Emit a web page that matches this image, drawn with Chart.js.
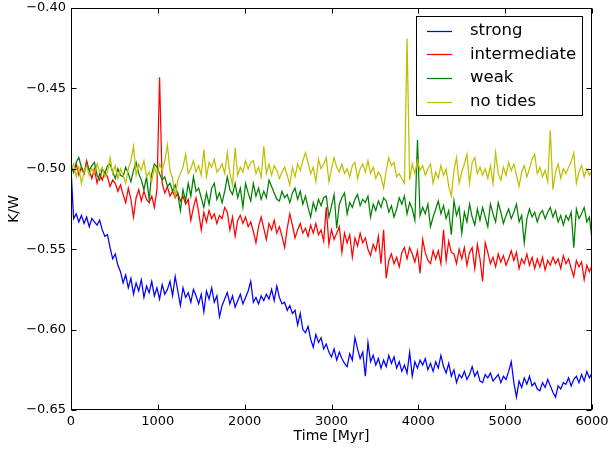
<!DOCTYPE html>
<html>
<head>
<meta charset="utf-8">
<script src="https://cdn.jsdelivr.net/npm/chart.js@4/dist/chart.umd.min.js"></script>
<style>
html,body{margin:0;padding:0;background:#fff;}
#c{display:block;}
</style>
</head>
<body>
<canvas id="c" width="610" height="449"></canvas>
<script>
// Time axis (Myr)
const times = [
0,30,60,90,120,150,180,210,240,270,
300,330,360,390,420,450,480,510,540,570,
600,630,660,690,720,750,780,810,840,870,
900,930,960,990,1020,1050,1080,1110,1140,1170,
1200,1230,1260,1290,1320,1350,1380,1410,1440,1470,
1500,1530,1560,1590,1620,1650,1680,1710,1740,1770,
1800,1830,1860,1890,1920,1950,1980,2010,2040,2070,
2100,2130,2160,2190,2220,2250,2280,2310,2340,2370,
2400,2430,2460,2490,2520,2550,2580,2610,2640,2670,
2700,2730,2760,2790,2820,2850,2880,2910,2940,2970,
3000,3030,3060,3090,3120,3150,3180,3210,3240,3270,
3300,3330,3360,3390,3420,3450,3480,3510,3540,3570,
3600,3630,3660,3690,3720,3750,3780,3810,3840,3870,
3900,3930,3960,3990,4020,4050,4080,4110,4140,4170,
4200,4230,4260,4290,4320,4350,4380,4410,4440,4470,
4500,4530,4560,4590,4620,4650,4680,4710,4740,4770,
4800,4830,4860,4890,4920,4950,4980,5010,5040,5070,
5100,5130,5160,5190,5220,5250,5280,5310,5340,5370,
5400,5430,5460,5490,5520,5550,5580,5610,5640,5670,
5700,5730,5760,5790,5820,5850,5880,5910,5940,5970,
6000];

const strong = [
-0.500,-0.531,-0.528,-0.533,-0.529,-0.534,-0.530,-0.536,-0.531,-0.533,
-0.535,-0.532,-0.538,-0.542,-0.541,-0.549,-0.556,-0.553,-0.560,-0.564,
-0.571,-0.566,-0.574,-0.568,-0.578,-0.571,-0.576,-0.569,-0.580,-0.573,
-0.577,-0.570,-0.579,-0.574,-0.581,-0.572,-0.578,-0.575,-0.570,-0.579,
-0.567,-0.576,-0.585,-0.574,-0.580,-0.577,-0.583,-0.575,-0.579,-0.584,
-0.578,-0.589,-0.576,-0.581,-0.574,-0.583,-0.579,-0.592,-0.585,-0.581,
-0.577,-0.584,-0.579,-0.586,-0.582,-0.578,-0.584,-0.580,-0.576,-0.570,
-0.583,-0.580,-0.584,-0.579,-0.582,-0.578,-0.581,-0.575,-0.582,-0.573,
-0.580,-0.584,-0.583,-0.588,-0.585,-0.590,-0.588,-0.597,-0.590,-0.600,
-0.602,-0.598,-0.606,-0.611,-0.603,-0.608,-0.605,-0.612,-0.609,-0.614,
-0.617,-0.612,-0.619,-0.614,-0.618,-0.621,-0.623,-0.615,-0.619,-0.605,
-0.612,-0.618,-0.614,-0.629,-0.608,-0.620,-0.616,-0.622,-0.618,-0.624,
-0.619,-0.623,-0.616,-0.621,-0.617,-0.624,-0.620,-0.626,-0.622,-0.627,
-0.614,-0.629,-0.620,-0.624,-0.619,-0.622,-0.618,-0.625,-0.621,-0.626,
-0.620,-0.624,-0.616,-0.623,-0.627,-0.621,-0.629,-0.625,-0.633,-0.628,
-0.630,-0.626,-0.631,-0.628,-0.623,-0.629,-0.626,-0.632,-0.633,-0.628,
-0.630,-0.627,-0.632,-0.630,-0.628,-0.633,-0.629,-0.631,-0.626,-0.620,
-0.633,-0.642,-0.632,-0.636,-0.630,-0.634,-0.629,-0.635,-0.633,-0.637,
-0.638,-0.633,-0.636,-0.631,-0.635,-0.639,-0.642,-0.635,-0.637,-0.633,
-0.634,-0.630,-0.635,-0.631,-0.629,-0.633,-0.628,-0.632,-0.626,-0.630,
-0.627];

const intermediate = [
-0.498,-0.502,-0.497,-0.504,-0.499,-0.503,-0.495,-0.501,-0.506,-0.500,
-0.509,-0.503,-0.507,-0.502,-0.505,-0.511,-0.507,-0.509,-0.514,-0.510,
-0.516,-0.521,-0.512,-0.519,-0.530,-0.518,-0.513,-0.520,-0.514,-0.519,
-0.521,-0.517,-0.524,-0.513,-0.443,-0.509,-0.515,-0.511,-0.517,-0.514,
-0.518,-0.515,-0.520,-0.517,-0.522,-0.519,-0.532,-0.524,-0.518,-0.527,
-0.538,-0.527,-0.533,-0.526,-0.531,-0.528,-0.534,-0.529,-0.531,-0.524,
-0.527,-0.538,-0.530,-0.542,-0.532,-0.529,-0.534,-0.530,-0.536,-0.533,
-0.539,-0.546,-0.536,-0.530,-0.537,-0.544,-0.534,-0.538,-0.532,-0.540,
-0.536,-0.542,-0.549,-0.537,-0.528,-0.535,-0.543,-0.538,-0.534,-0.540,
-0.537,-0.542,-0.535,-0.540,-0.534,-0.541,-0.538,-0.545,-0.524,-0.547,
-0.538,-0.544,-0.540,-0.536,-0.552,-0.540,-0.546,-0.541,-0.555,-0.543,
-0.548,-0.540,-0.546,-0.543,-0.550,-0.554,-0.547,-0.551,-0.542,-0.559,
-0.538,-0.568,-0.557,-0.553,-0.559,-0.555,-0.561,-0.552,-0.549,-0.556,
-0.549,-0.553,-0.558,-0.551,-0.565,-0.544,-0.552,-0.557,-0.559,-0.551,
-0.556,-0.551,-0.559,-0.538,-0.557,-0.545,-0.552,-0.553,-0.559,-0.550,
-0.556,-0.549,-0.560,-0.552,-0.549,-0.562,-0.547,-0.556,-0.570,-0.546,
-0.552,-0.559,-0.555,-0.561,-0.553,-0.558,-0.554,-0.560,-0.556,-0.551,
-0.557,-0.552,-0.562,-0.556,-0.559,-0.553,-0.560,-0.555,-0.562,-0.556,
-0.561,-0.555,-0.563,-0.557,-0.560,-0.555,-0.559,-0.556,-0.562,-0.554,
-0.559,-0.556,-0.562,-0.567,-0.557,-0.561,-0.558,-0.569,-0.560,-0.564,
-0.560];

const weak = [
-0.497,-0.502,-0.496,-0.493,-0.499,-0.503,-0.497,-0.501,-0.498,-0.496,
-0.504,-0.507,-0.500,-0.503,-0.498,-0.497,-0.502,-0.506,-0.500,-0.504,
-0.505,-0.499,-0.503,-0.508,-0.501,-0.496,-0.503,-0.507,-0.513,-0.505,
-0.519,-0.503,-0.497,-0.499,-0.503,-0.507,-0.505,-0.511,-0.509,-0.514,
-0.510,-0.516,-0.526,-0.513,-0.520,-0.509,-0.517,-0.505,-0.514,-0.512,
-0.518,-0.524,-0.515,-0.522,-0.512,-0.509,-0.519,-0.515,-0.521,-0.514,
-0.505,-0.513,-0.516,-0.509,-0.518,-0.512,-0.524,-0.509,-0.515,-0.520,
-0.509,-0.517,-0.512,-0.519,-0.514,-0.518,-0.507,-0.511,-0.515,-0.519,
-0.520,-0.514,-0.518,-0.516,-0.521,-0.515,-0.512,-0.519,-0.514,-0.522,
-0.517,-0.524,-0.530,-0.521,-0.526,-0.519,-0.523,-0.518,-0.517,-0.530,
-0.523,-0.516,-0.537,-0.522,-0.518,-0.515,-0.528,-0.521,-0.524,-0.519,
-0.516,-0.523,-0.519,-0.521,-0.517,-0.530,-0.522,-0.526,-0.520,-0.524,
-0.518,-0.520,-0.527,-0.523,-0.530,-0.525,-0.518,-0.522,-0.517,-0.528,
-0.521,-0.525,-0.532,-0.482,-0.529,-0.524,-0.528,-0.522,-0.536,-0.530,
-0.525,-0.520,-0.528,-0.523,-0.531,-0.526,-0.541,-0.520,-0.529,-0.524,
-0.540,-0.527,-0.533,-0.522,-0.530,-0.535,-0.525,-0.532,-0.524,-0.530,
-0.536,-0.522,-0.528,-0.533,-0.521,-0.527,-0.534,-0.529,-0.525,-0.531,
-0.527,-0.522,-0.533,-0.529,-0.546,-0.531,-0.525,-0.530,-0.527,-0.533,
-0.528,-0.526,-0.531,-0.527,-0.524,-0.530,-0.526,-0.533,-0.529,-0.535,
-0.529,-0.532,-0.527,-0.549,-0.525,-0.531,-0.528,-0.524,-0.533,-0.530,
-0.544];

const noTides = [
-0.501,-0.497,-0.505,-0.499,-0.509,-0.502,-0.498,-0.504,-0.500,-0.503,
-0.497,-0.502,-0.499,-0.505,-0.502,-0.493,-0.503,-0.498,-0.506,-0.500,
-0.504,-0.509,-0.500,-0.495,-0.486,-0.504,-0.497,-0.501,-0.495,-0.505,
-0.502,-0.508,-0.499,-0.504,-0.497,-0.501,-0.495,-0.485,-0.501,-0.506,
-0.517,-0.507,-0.503,-0.499,-0.491,-0.503,-0.500,-0.495,-0.502,-0.498,
-0.504,-0.488,-0.505,-0.496,-0.499,-0.494,-0.502,-0.500,-0.497,-0.503,
-0.490,-0.503,-0.510,-0.487,-0.504,-0.499,-0.502,-0.495,-0.500,-0.496,
-0.495,-0.503,-0.499,-0.505,-0.486,-0.503,-0.497,-0.504,-0.498,-0.501,
-0.506,-0.502,-0.499,-0.504,-0.510,-0.499,-0.505,-0.497,-0.501,-0.495,
-0.490,-0.496,-0.503,-0.499,-0.508,-0.494,-0.500,-0.497,-0.493,-0.508,
-0.500,-0.493,-0.499,-0.502,-0.497,-0.503,-0.500,-0.505,-0.498,-0.496,
-0.506,-0.500,-0.497,-0.502,-0.495,-0.503,-0.499,-0.506,-0.502,-0.505,
-0.512,-0.501,-0.493,-0.498,-0.496,-0.505,-0.503,-0.506,-0.509,-0.419,
-0.507,-0.497,-0.503,-0.495,-0.501,-0.498,-0.504,-0.500,-0.497,-0.509,
-0.502,-0.506,-0.498,-0.504,-0.500,-0.511,-0.517,-0.501,-0.493,-0.509,
-0.502,-0.497,-0.491,-0.509,-0.496,-0.493,-0.503,-0.499,-0.504,-0.500,
-0.506,-0.498,-0.509,-0.490,-0.503,-0.507,-0.499,-0.504,-0.496,-0.501,
-0.497,-0.504,-0.511,-0.502,-0.498,-0.505,-0.500,-0.494,-0.491,-0.503,
-0.499,-0.505,-0.501,-0.508,-0.476,-0.513,-0.502,-0.497,-0.506,-0.500,
-0.503,-0.499,-0.496,-0.490,-0.509,-0.502,-0.498,-0.505,-0.500,-0.504,
-0.501];

const seriesNames = ['strong', 'intermediate', 'weak', 'no tides'];
const seriesColors = ['#0000ff', '#ff0000', '#008000', '#bfbf00'];
const seriesValues = [strong, intermediate, weak, noTides];

const yTicks = [-0.65, -0.60, -0.55, -0.50, -0.45, -0.40];
const xTicks = [0, 1000, 2000, 3000, 4000, 5000, 6000];

const FONT = "'DejaVu Sans', sans-serif";

const datasets = seriesValues.map((vals, k) => ({
  label: seriesNames[k],
  data: vals.map((v, i) => ({x: times[i], y: v})),
  borderColor: seriesColors[k],
  backgroundColor: seriesColors[k],
  borderWidth: 1.25,
  pointRadius: 0,
  tension: 0,
  fill: false,
  order: 4 - k
}));

const framePlugin = {
  id: 'frame',
  afterDatasetsDraw(chart) {
    const ctx = chart.ctx;
    const a = chart.chartArea;
    const xs = chart.scales.x, ys = chart.scales.y;
    const L = Math.round(a.left) + 0.5, R = Math.round(a.right) - 0.5;
    const T = Math.round(a.top) + 0.5, B = Math.round(a.bottom) - 0.5;
    ctx.save();
    ctx.strokeStyle = '#000';
    ctx.lineWidth = 1;
    ctx.strokeRect(L, T, R - L, B - T);
    const tl = 5;
    ctx.beginPath();
    yTicks.forEach(v => {
      const y = Math.round(ys.getPixelForValue(v)) + 0.5;
      ctx.moveTo(L, y); ctx.lineTo(L + tl, y);
      ctx.moveTo(R, y); ctx.lineTo(R - tl, y);
    });
    xTicks.forEach(v => {
      const x = Math.round(xs.getPixelForValue(v)) + 0.5;
      ctx.moveTo(x, B); ctx.lineTo(x, B - tl);
      ctx.moveTo(x, T); ctx.lineTo(x, T + tl);
    });
    ctx.stroke();
    ctx.restore();
  },
  afterDraw(chart) {
    const ctx = chart.ctx;
    ctx.save();
    const bx = 416.5, by = 16.5, bw = 166, bh = 99;
    ctx.fillStyle = '#fff';
    ctx.fillRect(bx, by, bw, bh);
    ctx.strokeStyle = '#000';
    ctx.lineWidth = 1;
    ctx.strokeRect(bx, by, bw, bh);
    const rows = [30.5, 54.3, 78.2, 102];
    ctx.font = '16.5px ' + FONT;
    ctx.textBaseline = 'middle';
    ctx.textAlign = 'left';
    seriesNames.forEach((n, i) => {
      const y = Math.round(rows[i]) + 0.5;
      ctx.strokeStyle = seriesColors[i];
      ctx.lineWidth = 1.25;
      ctx.beginPath();
      ctx.moveTo(427, y); ctx.lineTo(452, y);
      ctx.stroke();
      ctx.fillStyle = '#000';
      ctx.fillText(n, 470, rows[i]);
    });
    ctx.restore();
  }
};

new Chart(document.getElementById('c'), {
  type: 'line',
  data: { datasets },
  plugins: [framePlugin],
  options: {
    responsive: false,
    animation: false,
    devicePixelRatio: 1,
    layout: { padding: { top: 8, right: 18, left: 0, bottom: 0 } },
    plugins: { legend: { display: false }, tooltip: { enabled: false } },
    scales: {
      x: {
        type: 'linear',
        min: 0, max: 6000,
        afterBuildTicks(scale) { scale.ticks = xTicks.map(v => ({value: v})); },
        afterFit(scale) { scale.height = 39; scale.paddingLeft = 0; scale.paddingRight = 0; },
        grid: { display: false, drawTicks: false },
        border: { display: false },
        ticks: {
          padding: 4,
          color: '#000',
          font: { family: FONT, size: 13 },
          maxRotation: 0,
          callback: v => String(v)
        },
        title: {
          display: true, text: 'Time [Myr]', color: '#000',
          font: { family: FONT, size: 14 },
          padding: { top: 0, bottom: 4 }
        }
      },
      y: {
        type: 'linear',
        min: -0.65, max: -0.40,
        afterBuildTicks(scale) { scale.ticks = yTicks.map(v => ({value: v})); },
        afterFit(scale) { scale.width = 71; scale.paddingTop = 0; scale.paddingBottom = 0; },
        grid: { display: false, drawTicks: false },
        border: { display: false },
        ticks: {
          padding: 5,
          color: '#000',
          font: { family: FONT, size: 13 },
          callback: v => v.toFixed(2).replace('-', '\u2212')
        },
        title: {
          display: true, text: 'K/W', color: '#000',
          font: { family: FONT, size: 14 },
          padding: { top: 6, bottom: 0 }
        }
      }
    }
  }
});
</script>
</body>
</html>
